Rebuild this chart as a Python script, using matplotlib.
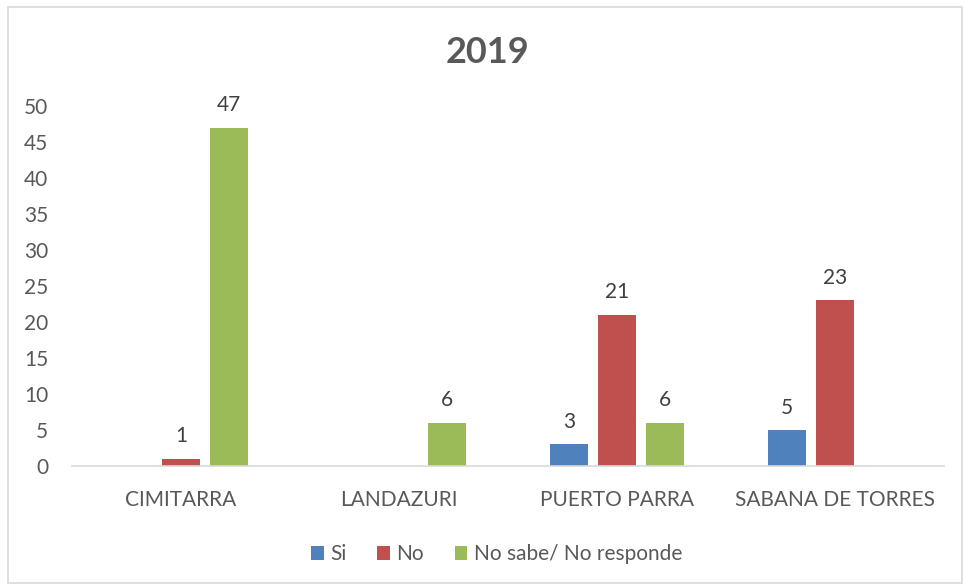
import numpy as np
import matplotlib.pyplot as plt
from matplotlib.patches import Rectangle

plt.rcParams['font.family'] = ['Lato', 'DejaVu Sans']

municipios = ['CIMITARRA', 'LANDAZURI', 'PUERTO PARRA', 'SABANA DE TORRES']
si = [0, 0, 3, 5]
no = [1, 0, 21, 23]
no_sabe = [47, 6, 6, 0]
series = [('Si', si, '#4F81BD'), ('No', no, '#C0504D'), ('No sabe/ No responde', no_sabe, '#9BBB59')]

fig = plt.figure(figsize=(9.64, 5.84), dpi=100)
ax = fig.add_axes([0.0747, 0.202, 0.9043, 0.6165])

# borde del grafico
fig.patches.append(Rectangle((8 / 964, 1 / 584), 954 / 964, 576 / 584, transform=fig.transFigure,
                             fill=False, edgecolor='#D9D9D9', linewidth=1.2))

x = np.arange(len(municipios))
ancho = 0.174
paso = 0.22
for i, (nombre, vals, color) in enumerate(series):
    pos = x + (i - 1) * paso
    ax.bar(pos, vals, width=ancho, color=color, label=nombre)
    for p, v in zip(pos, vals):
        if v > 0:
            ax.annotate(str(v), (p, v), xytext=(0, 9), textcoords='offset points',
                        ha='center', va='bottom', fontsize=15, color='#404040')

ax.set_xlim(-0.5, 3.5)
ax.set_ylim(0, 50)
ax.set_yticks(range(0, 51, 5))
ax.set_xticks(x)
ax.set_xticklabels(municipios)
ax.tick_params(axis='both', length=0, labelsize=15, labelcolor='#595959')
ax.tick_params(axis='x', pad=17)
ax.tick_params(axis='y', pad=17)
for lado in ['top', 'right', 'left']:
    ax.spines[lado].set_visible(False)
ax.spines['bottom'].set_color('#D9D9D9')
ax.spines['bottom'].set_linewidth(1.2)

fig.text(0.506, 0.91, '2019', ha='center', va='center', fontsize=26, fontweight='bold', color='#595959')

ax.legend(loc='center', bbox_to_anchor=(0.487, -0.245), ncol=3, frameon=False, fontsize=15,
          handlelength=0.6, handleheight=0.6, handletextpad=0.3, columnspacing=1.5,
          labelcolor='#595959')

fig.savefig('out.png', dpi=100)
